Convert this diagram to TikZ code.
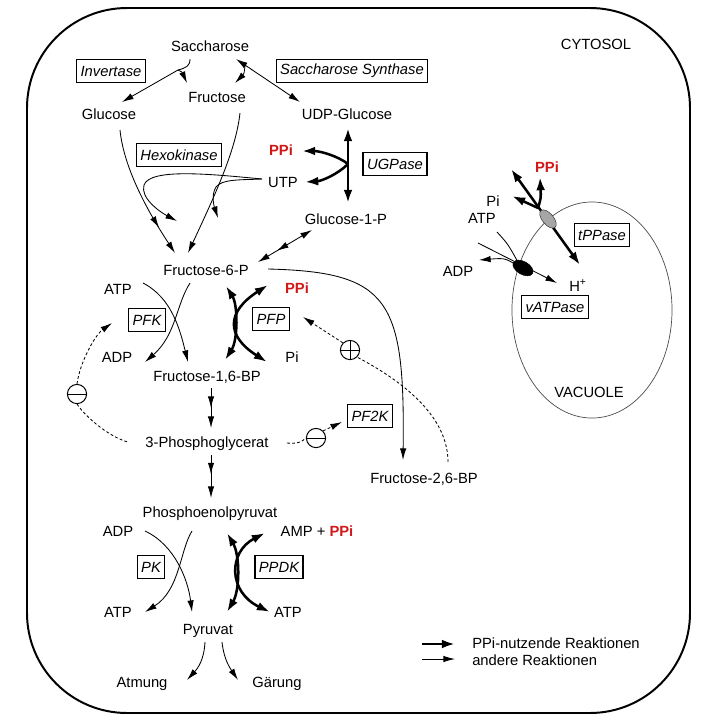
\documentclass[tikz,border=0pt]{standalone}
\usepackage{fontspec}
\setmainfont{Liberation Sans}
\usetikzlibrary{arrows.meta,shapes.geometric,decorations.markings}

\definecolor{ppired}{RGB}{210,25,25}
\newcommand{\lblfont}{\fontsize{10.5}{12.6}\selectfont}

\tikzset{
  hd/.tip={Latex[length=2.9mm,width=1.6mm]},
  bhd/.tip={Latex[length=3.3mm,width=2.2mm]},
  lbl/.style={font=\lblfont,inner sep=0.5mm,text height=2.6mm,text depth=0.55mm},
  enz/.style={draw,line width=0.9pt,font=\lblfont\itshape,inner xsep=1mm,inner ysep=0mm,minimum height=5.8mm},
  rxn/.style={line width=0.6pt,-hd},
  revrxn/.style={line width=0.6pt,hd-hd},
  ppirxn/.style={line width=1.8pt,-bhd},
  ppirev/.style={line width=1.8pt,bhd-bhd},
  effect/.style={line width=0.6pt,dash pattern=on 2pt off 1.6pt},
  midhead/.style={postaction={decorate},decoration={markings,
    mark=at position #1 with {\arrow{Latex[length=2.9mm,width=1.6mm]}}}},
  midhead/.default=0.5,
  inhib/.style={circle,draw,line width=0.7pt,minimum size=4.8mm,inner sep=0,
    path picture={\draw[line width=0.7pt] (path picture bounding box.west) -- (path picture bounding box.east);}},
  activ/.style={circle,draw,line width=0.7pt,minimum size=4.8mm,inner sep=0,
    path picture={\draw[line width=0.7pt] (path picture bounding box.west) -- (path picture bounding box.east)
      (path picture bounding box.north) -- (path picture bounding box.south);}}
}

\begin{document}
\begin{tikzpicture}[x=0.025cm,y=-0.025cm]
\useasboundingbox (0,0) rectangle (718,718);

%cell and vacuole
\draw[line width=1.4pt,rounded corners=2.5cm] (27,8) rectangle (690,713);
\draw[line width=0.5pt,gray!60!black] (592,310) ellipse [x radius=2cm,y radius=2.7cm];
\node[lbl] (cyto) at (596,45) {CYTOSOL};
\node[lbl] (vac) at (589,393) {VACUOLE};

%metabolites
\node[lbl] (sac) at (210,47) {Saccharose};
\node[lbl] (glc) at (109,115) {Glucose};
\node[lbl] (fru) at (217,98) {Fructose};
\node[lbl] (udpg) at (347,115) {UDP-Glucose};
\node[lbl,text=ppired,font=\lblfont\bfseries] (ppiA) at (281,151) {PPi};
\node[lbl] (utp) at (283,183) {UTP};
\node[lbl] (gonep) at (346,220) {Glucose-1-P};
\node[lbl] (fsixp) at (206,271) {Fructose-6-P};
\node[lbl] (atpA) at (118,290) {ATP};
\node[lbl,text=ppired,font=\lblfont\bfseries] (ppiB) at (297,289) {PPi};
\node[lbl] (adpA) at (117,358) {ADP};
\node[lbl] (piA) at (292,358) {Pi};
\node[lbl] (fbp) at (207,377) {Fructose-1,6-BP};
\node[lbl] (pga) at (207,443) {3-Phosphoglycerat};
\node[lbl] (ftbp) at (424,479) {Fructose-2,6-BP};
\node[lbl] (pep) at (210,513) {Phosphoenolpyruvat};
\node[lbl] (adpB) at (118,532) {ADP};
\node[lbl] (amp) at (317,532) {AMP + \textcolor{ppired}{\bfseries PPi}};
\node[lbl] (atpB) at (118,613) {ATP};
\node[lbl] (atpC) at (288,613) {ATP};
\node[lbl] (pyr) at (208,630) {Pyruvat};
\node[lbl] (atm) at (142,683) {Atmung};
\node[lbl] (gaer) at (277,683) {Gärung};

%vacuole side
\node[lbl,text=ppired,font=\lblfont\bfseries] (ppiC) at (547,168) {PPi};
\node[lbl] (piB) at (493,202) {Pi};
\node[lbl] (atpD) at (482,219) {ATP};
\node[lbl] (adpC) at (458,272) {ADP};
\node[lbl] (hplus) at (578,287) {H\textsuperscript{+}};

%enzymes
\node[enz] (inv) at (111,71) {Invertase};
\node[enz] (susy) at (352,71) {Saccharose Synthase};
\node[enz] (hxk) at (179,155) {Hexokinase};
\node[enz] (ugp) at (395,164) {UGPase};
\node[enz] (pfk) at (147,320) {PFK};
\node[enz] (pfp) at (271,319) {PFP};
\node[enz] (pftk) at (370,416) {PF2K};
\node[enz] (pk) at (151,567) {PK};
\node[enz] (ppdk) at (279,567) {PPDK};
\node[enz] (tpp) at (602,235) {tPPase};
\node[enz] (vat) at (555,307) {vATPase};

%regulators
\node[inhib] (inhA) at (77,394) {};
\node[inhib] (inhB) at (316,438) {};
\node[activ] (act) at (350,350) {};

%end points of the reactions
\coordinate (sacS) at (190,59); % invertase start
\coordinate (invB) at (178,70); % invertase branch
\coordinate (glcT) at (122,102);
\coordinate (fruT) at (187,83);
\coordinate (sacT) at (236,59); % susy
\coordinate (udpgT) at (300,102);
\coordinate (susB) at (245,66);
\coordinate (fruU) at (235,83);
\coordinate (udpgB) at (348,128); % ugpase
\coordinate (gonepT) at (348,203);
\coordinate (ugpB) at (348,164);
\coordinate (ppiAT) at (302,151);
\coordinate (utpT) at (305,182);
\coordinate (glcS) at (120,130); % hexokinase
\coordinate (fruS) at (240,113);
\coordinate (fsixT) at (175,253);
\coordinate (fsixU) at (188,253);
\coordinate (utpS) at (262,179);
\coordinate (udpT) at (177,221);
\coordinate (udpU) at (218,218);
\coordinate (gonepS) at (312,230);
\coordinate (fsixV) at (258,262);

%sucrose cleavage
\draw[rxn] (sacS) .. controls (190,66) and (186,68) .. (invB) -- (glcT);
\draw[rxn] (invB) .. controls (182,72) .. (fruT);
\draw[revrxn] (sacT) -- (udpgT);
\draw[rxn] (susB) .. controls (244,74) .. (fruU);

%UGPase
\draw[ppirev] (udpgB) -- (gonepT);
\draw[ppirxn] (ugpB) .. controls (338,156) and (320,151) .. (ppiAT);
\draw[ppirxn] (ugpB) .. controls (338,174) and (322,181) .. (utpT);

%hexokinase and fructokinase
\draw[rxn,midhead=0.78] (glcS) .. controls (124,170) and (150,215) .. (fsixT);
\draw[rxn] (fruS) .. controls (236,150) and (215,195) .. (fsixU);
\draw[rxn] (utpS) .. controls (210,174) and (150,168) .. (144,185)
  .. controls (140,198) and (160,212) .. (udpT);
\draw[rxn] (utpS) .. controls (240,180) and (222,179) .. (216,187)
  .. controls (211,195) and (214,206) .. (udpU);
\draw[revrxn,midhead=0.65] (gonepS) -- (fsixV);

%PFK and PFP
\draw[rxn] (143,283) .. controls (172,298) and (180,330) .. (188,362);
\draw[rxn] (190,283) .. controls (176,305) and (176,335) .. (145,362);
\draw[ppirev] (226,286) .. controls (238,305) and (238,340) .. (225,360);
\draw[ppirev] (268,285) .. controls (226,312) and (226,336) .. (267,362);

%fructose-2,6-BP
\draw[rxn] (268,269) .. controls (390,272) and (405,300) .. (403,460);

%glycolysis
\draw[rxn,midhead=0.5] (211,388) -- (211,428);
\draw[rxn,midhead=0.45] (211,455) -- (211,498);

%regulation
\draw[effect,-hd] (inhA.north) .. controls (80,362) and (95,335) .. (112,323);
\draw[effect] (inhA.south) .. controls (88,420) and (112,438) .. (128,442);
\draw[effect] (287,443) .. controls (297,444) and (302,442) .. (inhB.west);
\draw[effect,-hd] (inhB.north east) -- (342,422);
\draw[effect] (448,462) .. controls (448,420) and (410,385) .. (act.south east);
\draw[effect,-hd] (act.north west) -- (303,317);

%PK and PPDK
\draw[rxn] (145,531) .. controls (175,545) and (188,580) .. (192,612);
\draw[rxn] (192,531) .. controls (180,550) and (180,590) .. (145,612);
\draw[ppirev] (227,533) .. controls (240,555) and (240,590) .. (227,612);
\draw[ppirev] (265,533) .. controls (228,552) and (228,592) .. (270,612);

%pyruvate
\draw[rxn] (205,642) .. controls (204,660) and (198,668) .. (187,680);
\draw[rxn] (222,642) .. controls (224,660) and (230,668) .. (238,680);

%tonoplast pumps
\draw[ppirev] (511,169) -- (580,265);
\draw[ppirxn] (538,208) .. controls (541,198) .. (540,177);
\draw[ppirxn] (538,208) -- (512,196);
\draw[rxn] (478,243) -- (557,283);
\draw[line width=0.6pt] (497,232) .. controls (508,244) .. (519,264);
\draw[rxn] (518,266) .. controls (505,258) .. (479,260);
\node[ellipse,draw=gray!50!black,fill=gray!70,minimum width=5.5mm,minimum height=2.8mm,inner sep=0,rotate=-50] (tpase) at (548,219) {};
\node[ellipse,draw,fill=black,minimum width=5.5mm,minimum height=3.2mm,inner sep=0,rotate=-30] (vpase) at (523,268) {};

%legend
\draw[line width=1.8pt,-bhd] (422,644) -- (455,644);
\draw[rxn] (422,659) -- (455,659);
\node[lbl,anchor=west] (legA) at (470,644) {PPi-nutzende Reaktionen};
\node[lbl,anchor=west] (legB) at (470,661) {andere Reaktionen};
\end{tikzpicture}
\end{document}
